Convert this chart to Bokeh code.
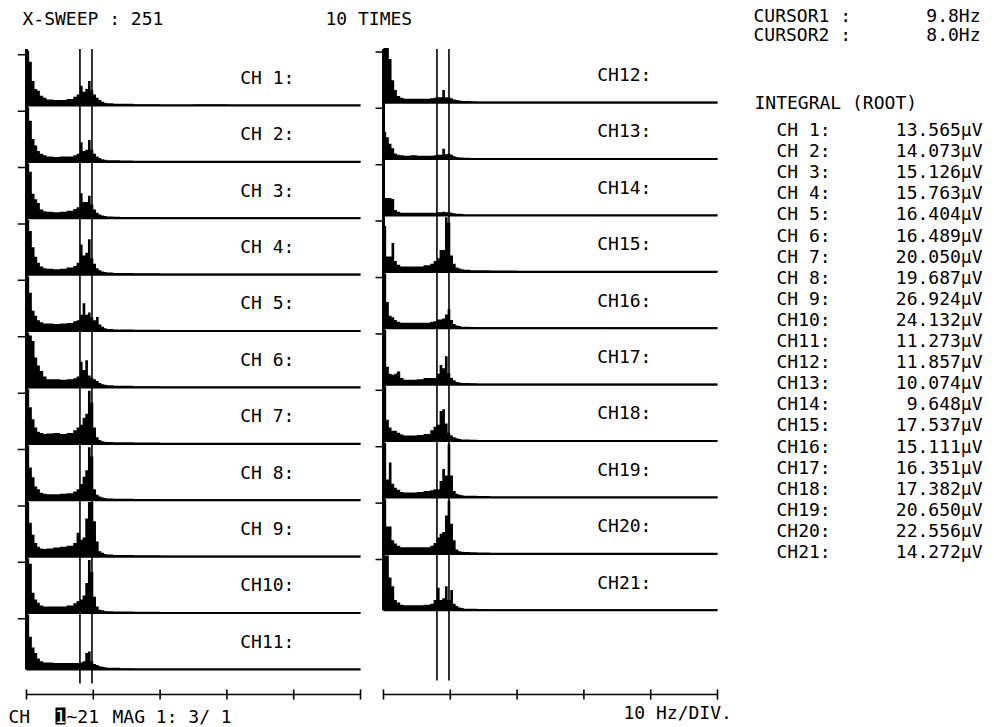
import numpy as np
from bokeh.plotting import figure
from bokeh.models import Range1d
from bokeh.embed import file_html
from bokeh.resources import INLINE
from bokeh.core.properties import value

# ---------------- data ----------------
# bin left edges (Hz); spectrum drawn as steps, amplitude in fractions of full scale
FREQ = [0, 0.4, 0.8, 1.2, 1.6, 2.0, 2.5, 3.0, 4.0, 5.0, 6.0, 7.0, 7.5, 8.0, 8.4, 8.8,
        9.2, 9.6, 10.0, 10.4, 10.8, 11.2, 11.6, 12.0, 13.0, 14.0, 16.0, 20.0, 25.0,
        30.0, 35.0, 40.0, 45.0, 50.0]

CH01 = [1.0, 0.8, 0.45, 0.3, 0.27, 0.18, 0.14, 0.11, 0.1, 0.1, 0.12, 0.16, 0.2, 0.36, 0.25, 0.3, 0.45, 0.28, 0.2, 0.14, 0.1, 0.07, 0.05, 0.04, 0.03, 0.03, 0.025, 0.02, 0.025, 0.02, 0.02, 0.02, 0.02, 0.02]
CH02 = [1.0, 0.75, 0.42, 0.3, 0.2, 0.15, 0.12, 0.1, 0.09, 0.1, 0.1, 0.12, 0.15, 0.36, 0.2, 0.22, 0.4, 0.22, 0.15, 0.1, 0.07, 0.05, 0.04, 0.03, 0.03, 0.025, 0.02, 0.02, 0.02, 0.02, 0.02, 0.02, 0.02, 0.02]
CH03 = [1.0, 0.85, 0.45, 0.35, 0.28, 0.16, 0.13, 0.12, 0.11, 0.12, 0.14, 0.17, 0.2, 0.46, 0.3, 0.3, 0.41, 0.25, 0.16, 0.1, 0.07, 0.05, 0.04, 0.035, 0.03, 0.025, 0.025, 0.02, 0.02, 0.02, 0.02, 0.02, 0.02, 0.02]
CH04 = [1.0, 0.8, 0.5, 0.33, 0.22, 0.15, 0.12, 0.11, 0.1, 0.11, 0.13, 0.16, 0.22, 0.55, 0.35, 0.4, 0.65, 0.3, 0.2, 0.12, 0.08, 0.06, 0.05, 0.04, 0.03, 0.03, 0.025, 0.02, 0.02, 0.02, 0.02, 0.02, 0.02, 0.02]
CH05 = [1.0, 0.7, 0.37, 0.28, 0.2, 0.16, 0.14, 0.14, 0.13, 0.14, 0.15, 0.18, 0.2, 0.3, 0.51, 0.3, 0.34, 0.25, 0.2, 0.26, 0.12, 0.08, 0.05, 0.04, 0.03, 0.03, 0.025, 0.02, 0.02, 0.02, 0.02, 0.02, 0.02, 0.02]
CH06 = [1.0, 0.95, 0.85, 0.55, 0.4, 0.3, 0.2, 0.15, 0.15, 0.14, 0.15, 0.17, 0.2, 0.47, 0.32, 0.5, 0.22, 0.18, 0.15, 0.12, 0.08, 0.06, 0.05, 0.04, 0.03, 0.03, 0.025, 0.02, 0.02, 0.02, 0.02, 0.02, 0.02, 0.02]
CH07 = [1.0, 0.67, 0.45, 0.3, 0.22, 0.2, 0.18, 0.19, 0.2, 0.18, 0.2, 0.25, 0.3, 0.35, 0.48, 0.55, 0.97, 0.75, 0.3, 0.12, 0.07, 0.05, 0.04, 0.035, 0.03, 0.03, 0.025, 0.02, 0.02, 0.02, 0.02, 0.02, 0.02, 0.02]
CH08 = [1.0, 0.6, 0.42, 0.25, 0.2, 0.14, 0.12, 0.11, 0.11, 0.12, 0.13, 0.16, 0.2, 0.3, 0.43, 0.55, 0.97, 0.8, 0.2, 0.1, 0.07, 0.05, 0.04, 0.035, 0.03, 0.03, 0.025, 0.02, 0.02, 0.02, 0.02, 0.02, 0.02, 0.02]
CH09 = [1.0, 0.62, 0.4, 0.25, 0.18, 0.15, 0.14, 0.15, 0.17, 0.18, 0.2, 0.25, 0.44, 0.31, 0.35, 0.7, 1.0, 1.0, 0.65, 0.28, 0.1, 0.07, 0.05, 0.04, 0.03, 0.03, 0.025, 0.02, 0.02, 0.02, 0.02, 0.02, 0.02, 0.02]
CH10 = [1.0, 0.9, 0.37, 0.25, 0.19, 0.14, 0.12, 0.12, 0.12, 0.12, 0.14, 0.18, 0.22, 0.25, 0.32, 0.55, 0.97, 0.75, 0.3, 0.12, 0.06, 0.05, 0.04, 0.035, 0.03, 0.03, 0.025, 0.02, 0.02, 0.02, 0.02, 0.02, 0.02, 0.02]
CH11 = [1.0, 0.6, 0.4, 0.3, 0.2, 0.15, 0.13, 0.13, 0.12, 0.12, 0.12, 0.12, 0.12, 0.13, 0.15, 0.3, 0.33, 0.15, 0.1, 0.08, 0.06, 0.05, 0.04, 0.03, 0.03, 0.025, 0.02, 0.02, 0.02, 0.02, 0.02, 0.02, 0.02, 0.02]
CH12 = [1.0, 1.0, 0.8, 0.41, 0.23, 0.12, 0.09, 0.07, 0.07, 0.07, 0.07, 0.08, 0.09, 0.1, 0.1, 0.23, 0.1, 0.1, 0.08, 0.06, 0.05, 0.04, 0.03, 0.03, 0.025, 0.02, 0.02, 0.02, 0.02, 0.02, 0.02, 0.02, 0.02, 0.02]
CH13 = [0.5, 0.4, 0.28, 0.2, 0.1, 0.08, 0.07, 0.06, 0.07, 0.06, 0.06, 0.06, 0.07, 0.08, 0.08, 0.19, 0.09, 0.1, 0.08, 0.05, 0.04, 0.03, 0.03, 0.025, 0.02, 0.02, 0.02, 0.02, 0.02, 0.02, 0.02, 0.02, 0.02, 0.02]
CH14 = [0.32, 0.32, 0.32, 0.3, 0.1, 0.07, 0.05, 0.05, 0.05, 0.05, 0.05, 0.05, 0.05, 0.06, 0.06, 0.07, 0.06, 0.07, 0.05, 0.04, 0.03, 0.03, 0.025, 0.02, 0.02, 0.02, 0.02, 0.02, 0.02, 0.02, 0.02, 0.02, 0.02, 0.02]
CH15 = [0.84, 0.28, 0.28, 0.53, 0.2, 0.13, 0.1, 0.1, 0.1, 0.1, 0.12, 0.15, 0.2, 0.25, 0.4, 0.4, 1.0, 0.9, 0.3, 0.15, 0.08, 0.06, 0.05, 0.04, 0.03, 0.03, 0.025, 0.02, 0.02, 0.02, 0.02, 0.02, 0.02, 0.02]
CH16 = [1.0, 0.48, 0.23, 0.2, 0.15, 0.12, 0.1, 0.1, 0.1, 0.1, 0.1, 0.12, 0.13, 0.16, 0.16, 0.18, 0.25, 0.35, 0.15, 0.08, 0.05, 0.04, 0.03, 0.03, 0.025, 0.02, 0.02, 0.02, 0.02, 0.02, 0.02, 0.02, 0.02, 0.02]
CH17 = [1.0, 0.33, 0.2, 0.18, 0.2, 0.24, 0.12, 0.09, 0.09, 0.1, 0.12, 0.12, 0.12, 0.2, 0.36, 0.3, 0.52, 0.21, 0.12, 0.08, 0.05, 0.04, 0.03, 0.03, 0.025, 0.02, 0.02, 0.02, 0.02, 0.02, 0.02, 0.02, 0.02, 0.02]
CH18 = [1.0, 0.39, 0.25, 0.19, 0.19, 0.15, 0.12, 0.1, 0.1, 0.11, 0.13, 0.2, 0.26, 0.3, 0.55, 0.58, 0.32, 0.15, 0.1, 0.07, 0.05, 0.04, 0.03, 0.03, 0.025, 0.02, 0.02, 0.02, 0.02, 0.02, 0.02, 0.02, 0.02, 0.02]
CH19 = [1.0, 0.33, 0.64, 0.25, 0.18, 0.14, 0.1, 0.09, 0.09, 0.1, 0.12, 0.13, 0.15, 0.15, 0.3, 0.52, 0.4, 0.97, 0.4, 0.12, 0.07, 0.05, 0.04, 0.03, 0.03, 0.025, 0.02, 0.02, 0.02, 0.02, 0.02, 0.02, 0.02, 0.02]
CH20 = [1.0, 0.5, 0.5, 0.25, 0.19, 0.15, 0.12, 0.12, 0.12, 0.12, 0.12, 0.15, 0.2, 0.3, 0.37, 0.4, 0.7, 0.97, 0.55, 0.25, 0.08, 0.05, 0.04, 0.035, 0.03, 0.025, 0.02, 0.02, 0.02, 0.02, 0.02, 0.02, 0.02, 0.02]
CH21 = [1.0, 1.0, 0.6, 0.44, 0.19, 0.14, 0.1, 0.09, 0.09, 0.09, 0.1, 0.12, 0.19, 0.41, 0.19, 0.22, 0.44, 0.19, 0.37, 0.12, 0.08, 0.05, 0.04, 0.03, 0.03, 0.025, 0.02, 0.02, 0.02, 0.02, 0.02, 0.02, 0.02, 0.02]

SPECTRA = [CH01, CH02, CH03, CH04, CH05, CH06, CH07, CH08, CH09, CH10, CH11,
           CH12, CH13, CH14, CH15, CH16, CH17, CH18, CH19, CH20, CH21]
CHANNEL_LABELS = ["CH 1", "CH 2", "CH 3", "CH 4", "CH 5", "CH 6", "CH 7", "CH 8", "CH 9",
                  "CH10", "CH11", "CH12", "CH13", "CH14", "CH15", "CH16", "CH17", "CH18",
                  "CH19", "CH20", "CH21"]
INTEGRAL_UV = [13.565, 14.073, 15.126, 15.763, 16.404, 16.489, 20.050, 19.687, 26.924,
               24.132, 11.273, 11.857, 10.074, 9.648, 17.537, 15.111, 16.351, 17.382,
               20.650, 22.556, 14.272]
CURSOR_HZ = [9.8, 8.0]
TICK_HZ = [0, 10, 20, 30, 40, 50]
X_SWEEP = 251
TIMES = 10

# ---------------- layout ----------------
W, H = 994, 727
PX_HZ = 6.68            # pixels per Hz
X0_PAGE = 26.0          # pixel x of 0 Hz, left column
RIGHT_OFF = 357.0 / PX_HZ
ROW_PX = 56.4           # panel height
Y0_PAGE = 669.0         # pixel y of CH11 baseline
RIGHT_SHIFT = 0.05
FULL = 0.97
FONT = value("DejaVu Sans Mono")
FS = "18px"


def hx(px):
    return (px - X0_PAGE) / PX_HZ


def ry(py):
    return (Y0_PAGE - py) / ROW_PX


p = figure(width=W, height=H, x_range=Range1d(hx(0), hx(W)),
           y_range=Range1d(ry(H), ry(0)), x_axis_type=None, y_axis_type=None,
           output_backend="svg", toolbar_location=None, min_border=0,
           outline_line_color=None, background_fill_color="white",
           border_fill_color="white")

n_left = 11
bases, offs = [], []
for i in range(len(SPECTRA)):
    if i < n_left:
        bases.append(10 - i)
        offs.append(0.0)
    else:
        j = i - n_left
        bases.append(10 - j + RIGHT_SHIFT)
        offs.append(RIGHT_OFF)

f = np.array(FREQ, dtype=float)
for vals, base, off in zip(SPECTRA, bases, offs):
    a = np.minimum(np.array(vals, dtype=float), 1.0) * FULL
    xs = np.repeat(f, 2)[1:-1] + off
    ys = np.repeat(a[:-1], 2)
    p.varea(x=xs, y1=base, y2=base + ys, fill_color="black")

# baselines
p.segment(x0=[o + f[0] for o in offs], x1=[o + f[-1] for o in offs],
          y0=bases, y1=bases, line_color="black", line_width=2)

# vertical axes
top = float(n_left)
p.segment(x0=[0, RIGHT_OFF], x1=[0, RIGHT_OFF], y0=[bases[n_left - 1], bases[-1]],
          y1=[top, top], line_color="black", line_width=3)
# full-scale tick marks
tick_y_l = [b + 0.9 for b in bases[:n_left]]
tick_y_r = [b + 0.9 for b in bases[n_left:]]
p.segment(x0=[-1.3] * len(tick_y_l), x1=[0] * len(tick_y_l), y0=tick_y_l, y1=tick_y_l,
          line_color="black", line_width=1.5)
p.segment(x0=[RIGHT_OFF - 1.2] * len(tick_y_r), x1=[RIGHT_OFF] * len(tick_y_r),
          y0=tick_y_r, y1=tick_y_r, line_color="black", line_width=1.5)

# cursors
for c in CURSOR_HZ:
    p.segment(x0=[c, c + RIGHT_OFF], x1=[c, c + RIGHT_OFF], y0=[ry(683), ry(680)],
              y1=[top, top], line_color="black", line_width=1.6)

# frequency axes
ay = ry(694)
for off in (0.0, RIGHT_OFF):
    p.segment(x0=[off + TICK_HZ[0]], x1=[off + TICK_HZ[-1]], y0=[ay], y1=[ay],
              line_color="black", line_width=1.6)
    p.segment(x0=[off + t for t in TICK_HZ], x1=[off + t for t in TICK_HZ],
              y0=[ay - 0.09] * len(TICK_HZ), y1=[ay + 0.09] * len(TICK_HZ),
              line_color="black", line_width=1.6)

# panel labels
p.text(x=[o + 32 for o in offs], y=[b + 0.5 for b in bases],
       text=[f"{lab}:" for lab in CHANNEL_LABELS], text_font=FONT, text_font_size=FS,
       text_baseline="middle", text_align="left", text_color="black")

# header
p.text(x=[hx(22), hx(325)], y=[ry(18), ry(18)],
       text=[f"X-SWEEP : {X_SWEEP}", f"{TIMES} TIMES"], text_font=FONT,
       text_font_size=FS, text_baseline="middle", text_color="black")
p.text(x=[hx(753), hx(753)], y=[ry(15), ry(34)], text=["CURSOR1 :", "CURSOR2 :"],
       text_font=FONT, text_font_size=FS, text_baseline="middle", text_color="black")
p.text(x=[hx(980), hx(980)], y=[ry(15), ry(34)],
       text=[f"{CURSOR_HZ[0]:.1f}Hz", f"{CURSOR_HZ[1]:.1f}Hz"], text_font=FONT,
       text_font_size=FS, text_baseline="middle", text_align="right", text_color="black")

# integral list
p.text(x=[hx(754)], y=[ry(102)], text=["INTEGRAL (ROOT)"], text_font=FONT,
       text_font_size=FS, text_baseline="middle", text_color="black")
n = len(INTEGRAL_UV)
rows_y = [ry(129 + 21.1 * k) for k in range(n)]
p.text(x=[hx(776)] * n, y=rows_y, text=[f"{lab}:" for lab in CHANNEL_LABELS],
       text_font=FONT, text_font_size=FS, text_baseline="middle", text_color="black")
p.text(x=[hx(982)] * n, y=rows_y, text=[f"{v:.3f}\u00b5V" for v in INTEGRAL_UV],
       text_font=FONT, text_font_size=FS, text_baseline="middle", text_align="right",
       text_color="black")

# footer
fy = ry(716)
p.text(x=[hx(8)], y=[fy], text=["CH"], text_font=FONT, text_font_size=FS,
       text_baseline="middle", text_align="left", text_color="black")
p.quad(left=[hx(55)], right=[hx(65)], top=[ry(707)], bottom=[ry(724)], fill_color="black",
       line_color=None)
p.text(x=[hx(60)], y=[fy], text=["1"], text_font=FONT, text_font_size=FS,
       text_baseline="middle", text_align="center", text_color="white")
p.text(x=[hx(66), hx(112)], y=[fy, fy], text=["~21", "MAG 1: 3/ 1"], text_font=FONT,
       text_font_size=FS, text_baseline="middle", text_color="black")
p.text(x=[hx(623)], y=[ry(712)], text=["10 Hz/DIV."], text_font=FONT, text_font_size=FS,
       text_baseline="middle", text_color="black")

open("out.html", "w").write(file_html(p, INLINE))
